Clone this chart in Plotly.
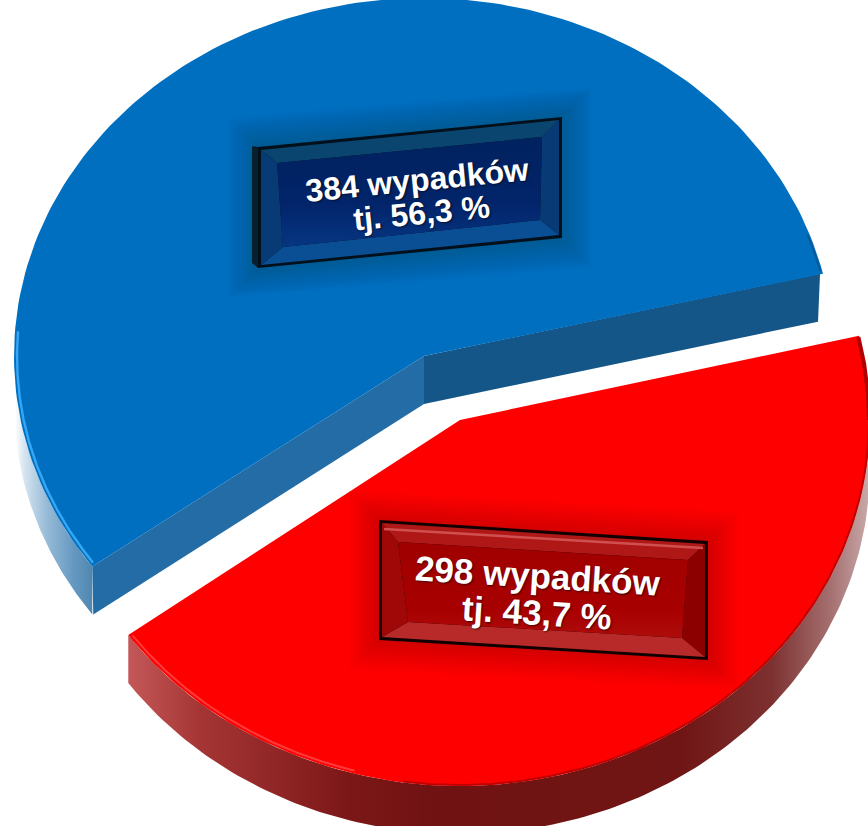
import math
import plotly.graph_objects as go

# ---- data ----
categories = ["384 wypadków", "298 wypadków"]
values = [384, 298]
percent_labels = ["tj. 56,3 %", "tj. 43,7 %"]

# ---- layout constants (pixel space) ----
W, H = 868, 826
START = 13.3
RX = 410
DEPTH = 48
BLUE_C, BLUE_RY = (424, 356), 358
RED_C, RED_RY = (460, 420), 366

total = sum(values)
a_blue_end = START + values[0] / total * 360
a_red_end = a_blue_end + values[1] / total * 360


def arc(c, ry, a0, a1, dy=0, n=160, shrink=0):
    xs, ys = [], []
    for i in range(n + 1):
        a = math.radians(a0 + (a1 - a0) * i / n)
        xs.append(c[0] + (RX - shrink) * math.cos(a))
        ys.append(c[1] - (ry - shrink) * math.sin(a) + dy)
    return xs, ys


fig = go.Figure()


def poly(xs, ys, color=None, grad=None):
    kw = dict(x=list(xs) + [xs[0]], y=list(ys) + [ys[0]], mode="lines", fill="toself",
              line=dict(width=0), hoverinfo="skip", showlegend=False)
    if grad:
        kw["fillgradient"] = grad
        kw["fillcolor"] = None
    else:
        kw["fillcolor"] = color
    fig.add_trace(go.Scatter(**kw))


def hgrad(stops, a, b, kind="horizontal"):
    return dict(type=kind, colorscale=stops, start=a, stop=b)


def line(xs, ys, color, width):
    fig.add_trace(go.Scatter(x=xs, y=ys, mode="lines", line=dict(color=color, width=width),
                             hoverinfo="skip", showlegend=False))


def wall(c, ry, a0, a1, grad):
    x1, y1 = arc(c, ry, a0, a1)
    x2, y2 = arc(c, ry, a1, a0, dy=DEPTH)
    poly(x1 + x2, y1 + y2, grad=grad)


def slice_top(c, ry, a0, a1, color):
    x, y = arc(c, ry, a0, a1)
    poly([c[0]] + x, [c[1]] + y, color=color)


def endpoint(c, ry, a):
    x, y = arc(c, ry, a, a, n=1)
    return x[0], y[0]


# --- blue slice ---
wall(BLUE_C, BLUE_RY, 172, a_blue_end,
     hgrad([[0, "#ffffff"], [0.12, "#d5e4f0"], [0.4, "#97bbd7"], [0.75, "#6498c0"], [1, "#4f86ae"]], 15, 94))
bx, by = endpoint(BLUE_C, BLUE_RY, a_blue_end)
poly([BLUE_C[0], bx, bx + 1, BLUE_C[0]], [BLUE_C[1], by, by + DEPTH, BLUE_C[1] + DEPTH], color="#236ca6")
rx_, ry_ = endpoint(BLUE_C, BLUE_RY, START)
poly([BLUE_C[0], rx_ - 3, rx_ - 5, BLUE_C[0]], [BLUE_C[1], ry_, ry_ + DEPTH, BLUE_C[1] + DEPTH], color="#145688")
slice_top(BLUE_C, BLUE_RY, START, a_blue_end, "#006fc0")
x, y = arc(BLUE_C, BLUE_RY, 176, a_blue_end - 0.4, shrink=3)
line(x, y, "#35a8f5", 2.4)
x, y = arc(BLUE_C, BLUE_RY, 20, 13.8, shrink=2)
line(x, y, "#055a98", 2)

# --- red slice ---
wall(RED_C, RED_RY, a_blue_end, 363,
     hgrad([[0, "#c45858"], [0.1, "#a53535"], [0.3, "#7c1717"], [0.42, "#701212"], [0.75, "#701515"],
            [0.87, "#7d3030"], [0.95, "#a57070"], [1, "#c8a8a8"]], 127, 868))
slice_top(RED_C, RED_RY, a_blue_end, a_red_end, "#ff0000")
x, y = arc(RED_C, RED_RY, a_blue_end + 0.4, 255, shrink=3)
line(x, y, "#ff3a3a", 2)
x, y = arc(RED_C, RED_RY, 262, 360, shrink=1)
line(x, y, "#c00000", 2)
x, y = arc(RED_C, RED_RY, 360, a_red_end - 0.2, shrink=1)
line(x, y, "#b00000", 4)

# --- label boxes ---
BLUE_OUT = [(258, 147), (562, 117), (562, 238), (258, 268)]
BLUE_IN = [(277, 163), (542, 137), (540, 220), (283, 247)]
BLUE_SIDE = [(252, 146), (258, 147), (258, 268), (252, 263)]
RED_OUT = [(379, 520), (708, 541), (708, 660), (379, 640)]
RED_IN = [(398, 542), (688, 560), (682, 638), (408, 622)]


def unzip(pts):
    return [p[0] for p in pts], [p[1] for p in pts]


def glow(pts, color, steps, reach):
    cx = sum(p[0] for p in pts) / 4
    cy = sum(p[1] for p in pts) / 4
    for k in range(steps, 0, -1):
        d = reach * k / steps
        g = []
        for p in pts:
            sx = 1 if p[0] > cx else -1
            sy = 1 if p[1] > cy else -1
            g.append((p[0] + sx * d, p[1] + sy * d))
        poly(*unzip(g), color=color)


def bevel(out, inn, cols, edge):
    poly(*unzip(out), color=edge)
    m = 3
    o = [(out[0][0] + m, out[0][1] + m), (out[1][0] - m, out[1][1] + m),
         (out[2][0] - m, out[2][1] - m), (out[3][0] + m, out[3][1] - m)]
    for i, col in enumerate(cols):
        j = (i + 1) % 4
        poly([o[i][0], o[j][0], inn[j][0], inn[i][0]], [o[i][1], o[j][1], inn[j][1], inn[i][1]], color=col)


glow(BLUE_OUT, "rgba(0,30,70,0.018)", 14, 30)
poly(*unzip(BLUE_SIDE), color="#06202e")
bevel(BLUE_OUT, BLUE_IN, ["#0a4570", "#083a75", "#0a4f94", "#083a75"], "#02101c")
ys_b = [p[1] for p in BLUE_IN]
poly(*unzip(BLUE_IN), grad=hgrad([[0, "#00225e"], [0.6, "#02246a"], [1, "#063682"]], min(ys_b), max(ys_b), "vertical"))

glow(RED_OUT, "rgba(90,0,0,0.015)", 14, 30)
bevel(RED_OUT, RED_IN, ["#b01818", "#8c0000", "#b82a2a", "#a00808"], "#120000")
ys_r = [p[1] for p in RED_IN]
poly(*unzip(RED_IN), grad=hgrad([[0, "#a00000"], [0.7, "#a80000"], [1, "#ae0c0c"]], min(ys_r), max(ys_r), "vertical"))
line([384, 703], [529, 548], "#d05050", 2.5)


def label(text, x_, y_, ang, size):
    return dict(x=x_, y=y_, xref="x", yref="y", text=text, showarrow=False, textangle=ang,
                xanchor="center", yanchor="middle",
                font=dict(family="Liberation Sans", size=size, color="#ffffff", weight="bold",
                          shadow="1px 1px 2px rgba(0,0,0,0.6)"))


annotations = [
    label(categories[0], 417, 180, -5.6, 32),
    label(percent_labels[0], 421, 213, -5.6, 32),
    label(categories[1], 538, 575, 3.6, 35),
    label(percent_labels[1], 537, 612, 3.6, 35),
]

fig.update_layout(
    width=W, height=H, margin=dict(l=0, r=0, t=0, b=0),
    paper_bgcolor="#ffffff", plot_bgcolor="#ffffff", showlegend=False,
    xaxis=dict(range=[0, W], visible=False, fixedrange=True),
    yaxis=dict(range=[H, 0], visible=False, fixedrange=True),
    annotations=annotations,
)
fig.write_html("out.html", config=dict(displayModeBar=False),
               post_script="document.body.style.margin='0';document.body.style.overflow='hidden';")
